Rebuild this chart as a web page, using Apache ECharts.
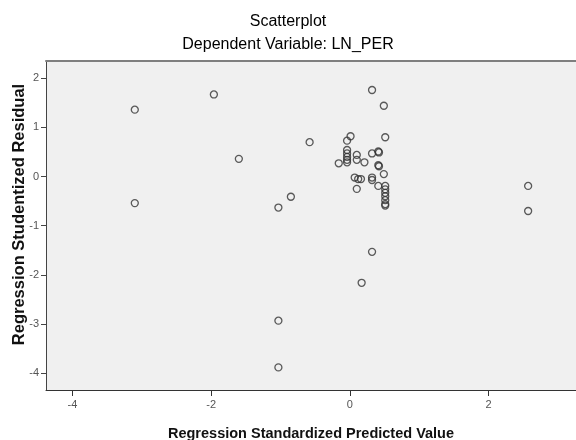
<!DOCTYPE html>
<html>
<head>
<meta charset="utf-8">
<script src="https://cdn.jsdelivr.net/npm/echarts@6/dist/echarts.min.js"></script>
<style>html,body{margin:0;padding:0;background:#fff;}#chart{width:576px;height:440px;}</style>
</head>
<body>
<div id="chart"></div>
<script>
var titleLines = ['Scatterplot', 'Dependent Variable: LN_PER'];
var xAxisTitle = 'Regression Standardized Predicted Value';
var yAxisTitle = 'Regression Studentized Residual';
var xTicks = [-4, -2, 0, 2];
var yTicks = [-4, -3, -2, -1, 0, 1, 2];
var predicted = [-3.10, -1.96, -1.60, -3.10, -0.85, -1.03, -1.03, -1.03, 0.17, 0.32,
  0.32, 0.49, -0.58, 0.01, -0.04, 0.51, -0.04, -0.04, -0.04, -0.04,
  -0.04, -0.16, 0.10, 0.10, 0.21, 0.32, 0.41, 0.42, 0.41, 0.42,
  0.49, 0.07, 0.12, 0.16, 0.32, 0.32, 0.10, 0.41, 0.51, 0.51,
  0.51, 0.51, 0.51, 0.51, 0.51, 2.57, 2.57];
var residual = [1.36, 1.67, 0.36, -0.54, -0.41, -0.63, -2.93, -3.88, -2.16, -1.53,
  1.76, 1.44, 0.70, 0.82, 0.73, 0.80, 0.54, 0.47, 0.40, 0.34,
  0.29, 0.27, 0.44, 0.34, 0.29, 0.47, 0.51, 0.49, 0.23, 0.21,
  0.05, -0.02, -0.05, -0.05, -0.02, -0.07, -0.25, -0.19, -0.19, -0.26,
  -0.33, -0.40, -0.48, -0.56, -0.59, -0.19, -0.70];

var points = predicted.map(function (x, i) { return [x, residual[i]]; });
var xMin = -4.38, xMax = 3.26, yMin = -4.34, yMax = 2.35;
var font = 'Liberation Sans, Arial, sans-serif';

var chart = echarts.init(document.getElementById('chart'), null, {renderer: 'canvas'});
chart.setOption({
  animation: false,
  backgroundColor: '#ffffff',
  title: [
    {text: titleLines[0], left: 'center', top: 9, textStyle: {fontFamily: font, fontSize: 16, fontWeight: 'normal', color: '#000'}},
    {text: titleLines[1], left: 'center', top: 32, textStyle: {fontFamily: font, fontSize: 16, fontWeight: 'normal', color: '#000'}}
  ],
  grid: {left: 46, right: 0, top: 61, bottom: 50, show: true, backgroundColor: '#f0f0f0', borderWidth: 0,
    containLabel: false, outerBoundsMode: 'none'},
  xAxis: [{
    type: 'value', min: xMin, max: xMax, position: 'bottom',
    axisLine: {show: true, onZero: false, lineStyle: {color: '#333', width: 1}},
    axisTick: {show: true, length: 6, customValues: xTicks, lineStyle: {color: '#333'}},
    axisLabel: {customValues: xTicks, color: '#555', fontSize: 11, fontFamily: font, margin: 9},
    splitLine: {show: false},
    name: xAxisTitle, nameLocation: 'middle', nameGap: 36,
    nameTextStyle: {fontFamily: font, fontSize: 14.5, fontWeight: 'bold', color: '#111'}
  }, {
    type: 'value', min: xMin, max: xMax, position: 'top',
    axisLine: {show: true, onZero: false, lineStyle: {color: '#7f7f7f', width: 2}},
    axisTick: {show: false}, axisLabel: {show: false}, splitLine: {show: false}
  }],
  yAxis: {
    type: 'value', min: yMin, max: yMax,
    axisLine: {show: true, onZero: false, lineStyle: {color: '#444', width: 1}},
    axisTick: {show: true, length: 5, customValues: yTicks, lineStyle: {color: '#444'}},
    axisLabel: {customValues: yTicks, color: '#555', fontSize: 11, fontFamily: font, margin: 7},
    splitLine: {show: false},
    name: yAxisTitle, nameLocation: 'middle', nameGap: 18, nameRotate: 90, nameMoveOverlap: false,
    nameTextStyle: {fontFamily: font, fontSize: 16.5, fontWeight: 'bold', color: '#111', padding: [0, 0, 0, 22]}
  },
  series: [{
    type: 'scatter', xAxisIndex: 0, data: points,
    symbol: 'circle', symbolSize: 7,
    itemStyle: {color: 'rgba(0,0,0,0)', borderColor: '#333', borderWidth: 1.3}
  }]
});
</script>
</body>
</html>
